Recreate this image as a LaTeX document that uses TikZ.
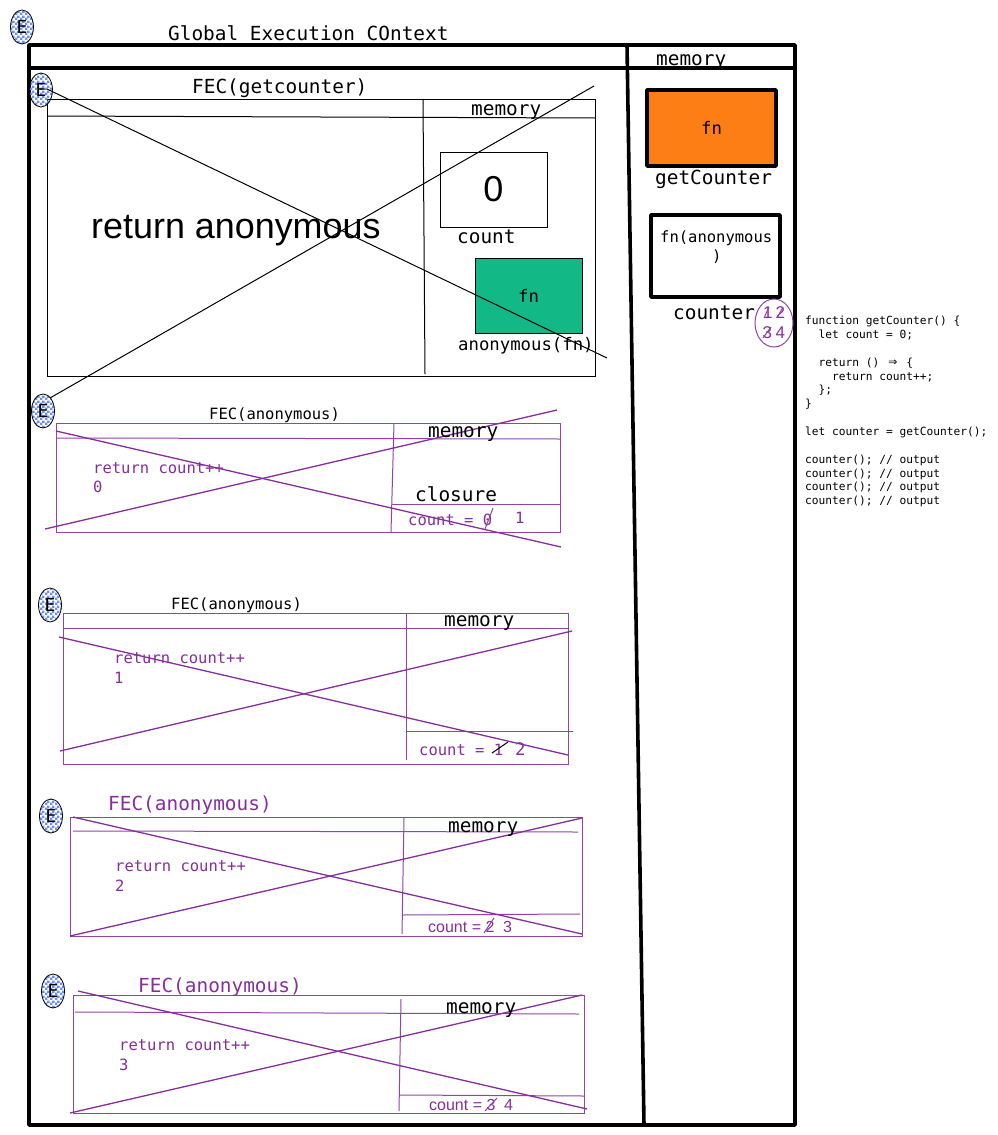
\documentclass[tikz,border=0pt]{standalone}
\usepackage{fontspec}
\setmainfont{Liberation Sans}
\setmonofont{DejaVu Sans Mono}
\usetikzlibrary{shapes.geometric,patterns}
\definecolor{fecpurple}{HTML}{862E9C}
\definecolor{fngreen}{HTML}{12B886}
\definecolor{fnorange}{HTML}{FD7E14}
\definecolor{tagblue}{HTML}{6F8FF0}
\pgfdeclarepatternformonly{tagcheck}{\pgfqpoint{0pt}{0pt}}{\pgfqpoint{5pt}{5pt}}{\pgfqpoint{5pt}{5pt}}{%
  \pgfpathrectangle{\pgfqpoint{0pt}{0pt}}{\pgfqpoint{2.7pt}{2.7pt}}%
  \pgfpathrectangle{\pgfqpoint{2.5pt}{2.5pt}}{\pgfqpoint{2.7pt}{2.7pt}}%
  \pgfusepath{fill}}
\newcommand{\monosz}[1]{\ttfamily\fontsize{#1}{#1}\selectfont}
\newcommand{\sanssz}[1]{\rmfamily\fontsize{#1}{#1}\selectfont}
\tikzset{
  frame/.style={line width=3.6pt,line join=round,line cap=round},
  fnbox/.style={draw,line width=3.6pt,line join=round},
  thinline/.style={line width=1pt},
  fecline/.style={line width=1pt,color=fecpurple!90},
  crossline/.style={line width=1.3pt,color=fecpurple},
  bigtxt/.style={inner sep=0pt,anchor=mid west,yshift=-4.3pt,font=\monosz{19.4}},
  midtxt/.style={inner sep=0pt,anchor=mid west,yshift=-3pt,font=\monosz{15.5}},
  sanstxt/.style={inner sep=0pt,anchor=mid west,yshift=-3pt,text=fecpurple,font=\sanssz{16}},
  codetxt/.style={inner sep=0pt,anchor=north west,align=left,font=\ttfamily\fontsize{11.2}{13.85}\selectfont},
  exectag/.style={draw,ellipse,line width=0.8pt,inner sep=0pt,minimum width=23pt,minimum height=34pt,
    pattern=tagcheck,pattern color=tagblue,font=\monosz{18}}
}
\begin{document}
\begin{tikzpicture}[x=1pt,y=-1pt]
  \useasboundingbox (0,0) rectangle (997,1135);
  % global context
  \draw[frame] (29,45) rectangle (795,1125);
  \draw[frame] (29,68) -- (795,68);
  \draw[frame] (627,45) -- (644,1125);
  \node[exectag] (tag0) at (22,27) {E};
  \node[bigtxt] (globaltitle) at (168,34) {Global Execution COntext};
  \node[bigtxt] (globalmem) at (656,59) {memory};

  % global memory
  \node[fnbox,fill=fnorange,minimum width=129pt,minimum height=76pt,inner sep=0pt,font=\monosz{17.3}] (getbox) at (711.5,128) {fn};
  \node[bigtxt] (getlabel) at (655,178) {getCounter};
  \draw[fnbox] (651,215) rectangle (780,297);
  \node[midtxt] (fnanon) at (660,237) {fn(anonymous};
  \node[midtxt] (fnclose) at (712,256) {)};
  \node[bigtxt] (counterlabel) at (673,313) {counter};
  \draw[fecline] (774,323) ellipse (19 and 24);
  \node[sanstxt,font=\sanssz{17}] (one) at (763,313) {1};
  \node[sanstxt,font=\sanssz{17}] (two) at (775.5,313) {2};
  \node[sanstxt,font=\sanssz{17}] (three) at (762.5,333) {3};
  \node[sanstxt,font=\sanssz{17}] (four) at (775.5,333) {4};
  \draw[fecline] (764,318) -- (769,307);
  \draw[fecline] (777,318) -- (783,307);
  \draw[fecline] (763,338) -- (771,327);

  % code
  \node[codetxt] (code) at (805,316) {function getCounter() \{\\
    \ \ let count = 0;\\
    \mbox{}\\
    \ \ return () \makebox[13.5pt]{\fontsize{15}{13.85}\selectfont ⇒} \{\\
    \ \ \ \ return count++;\\
    \ \ \};\\
    \}\\
    \mbox{}\\
    let counter = getCounter();\\
    \mbox{}\\
    counter(); // output\\
    counter(); // output\\
    counter(); // output\\
    counter(); // output};

  % FEC getcounter
  \draw[thinline] (47,99) rectangle (595,376);
  \draw[thinline] (47,116) -- (595,118);
  \draw[thinline] (423,99) -- (425,374);
  \node[exectag] (tag1) at (41,90) {E};
  \node[bigtxt] (title1) at (192,87) {FEC(getcounter)};
  \node[bigtxt] (mem1) at (471,109) {memory};
  \node[inner sep=0pt,anchor=mid west,yshift=-10pt,font=\sanssz{35.9}] (ret1) at (91,226) {return anonymous};
  \node[draw,thinline,minimum width=107pt,minimum height=75pt,inner sep=0pt,font=\sanssz{36}] (zerobox) at (493.5,189.5) {0};
  \node[bigtxt] (countlabel) at (457,237) {count};
  \node[draw,thinline,fill=fngreen,minimum width=107pt,minimum height=75pt,inner sep=0pt,font=\monosz{17.3}] (greenbox) at (528.5,295.5) {fn};
  \node[bigtxt,font=\monosz{17.3}] (anonlabel) at (458,344) {anonymous(fn)};
  \draw[thinline] (47,89) -- (607,358);
  \draw[thinline] (50,398) -- (594,86);

  % FEC anonymous 0
  \draw[fecline] (56,423) rectangle (560,532);
  \draw[fecline] (56,438) -- (560,439);
  \draw[fecline] (394,423) -- (391,532);
  \draw[fecline] (392,504) -- (560,504);
  \draw[crossline] (45,529) -- (557,410);
  \draw[crossline] (56,431) -- (561,547);
  \node[exectag] (tag2) at (43,411) {E};
  \node[midtxt] (title2) at (209,414) {FEC(anonymous)};
  \node[bigtxt] (mem2) at (428,431) {memory};
  \node[bigtxt] (closure2) at (415,495) {closure};
  \node[midtxt,text=fecpurple] (ret2) at (93,468) {return count++};
  \node[midtxt,text=fecpurple] (val2) at (93,487) {0};
  \node[midtxt,text=fecpurple] (cnt2) at (408,520) {count = 0};
  \node[midtxt,text=fecpurple] (new2) at (515,518) {1};
  \draw[fecline] (493,508) -- (485,529);

  % FEC anonymous 1
  \draw[fecline] (63,613) rectangle (568,764);
  \draw[fecline] (63,628) -- (568,628);
  \draw[fecline] (406,613) -- (406,760);
  \draw[fecline] (406,731) -- (573,731);
  \draw[crossline] (60,751) -- (572,631);
  \draw[crossline] (59,637) -- (568,755);
  \node[exectag] (tag3) at (50,605) {E};
  \node[midtxt] (title3) at (171,604) {FEC(anonymous)};
  \node[bigtxt] (mem3) at (444,620) {memory};
  \node[midtxt,text=fecpurple] (ret3) at (114,658) {return count++};
  \node[midtxt,text=fecpurple] (val3) at (114,678) {1};
  \node[midtxt,text=fecpurple] (cnt3) at (419,750) {count = 1};
  \node[midtxt,text=fecpurple,font=\monosz{17.3}] (new3) at (515,750) {2};
  \draw[thinline] (492,753) -- (508,742);

  % FEC anonymous 2
  \draw[fecline] (70,817) rectangle (582,936);
  \draw[fecline] (73,831) -- (578,832);
  \draw[fecline] (404,818) -- (402,934);
  \draw[fecline] (402,915) -- (580,914);
  \draw[crossline] (70,936) -- (582,818);
  \draw[crossline] (73,817) -- (582,934);
  \node[exectag] (tag4) at (51,816) {E};
  \node[bigtxt,text=fecpurple] (title4) at (108,804) {FEC(anonymous)};
  \node[bigtxt] (mem4) at (448,826) {memory};
  \node[midtxt,text=fecpurple] (ret4) at (115,866) {return count++};
  \node[midtxt,text=fecpurple] (val4) at (115,886) {2};
  \node[sanstxt] (cnt4) at (428,927) {count = 2};
  \node[sanstxt] (new4) at (503,927) {3};
  \draw[fecline] (484,933) -- (494,918);

  % FEC anonymous 3
  \draw[fecline] (73,995) rectangle (584,1113);
  \draw[fecline] (75,1012) -- (579,1014);
  \draw[fecline] (401,999) -- (399,1111);
  \draw[fecline] (399,1095) -- (584,1096);
  \draw[crossline] (70,1113) -- (582,995);
  \draw[crossline] (78,991) -- (587,1109);
  \node[exectag] (tag5) at (53,991) {E};
  \node[bigtxt,text=fecpurple] (title5) at (138,986) {FEC(anonymous)};
  \node[bigtxt] (mem5) at (446,1007) {memory};
  \node[midtxt,text=fecpurple] (ret5) at (119,1045) {return count++};
  \node[midtxt,text=fecpurple] (val5) at (119,1065) {3};
  \node[sanstxt] (cnt5) at (429,1105) {count = 3};
  \node[sanstxt] (new5) at (504,1105) {4};
  \draw[fecline] (485,1111) -- (497,1098);
\end{tikzpicture}
\end{document}
